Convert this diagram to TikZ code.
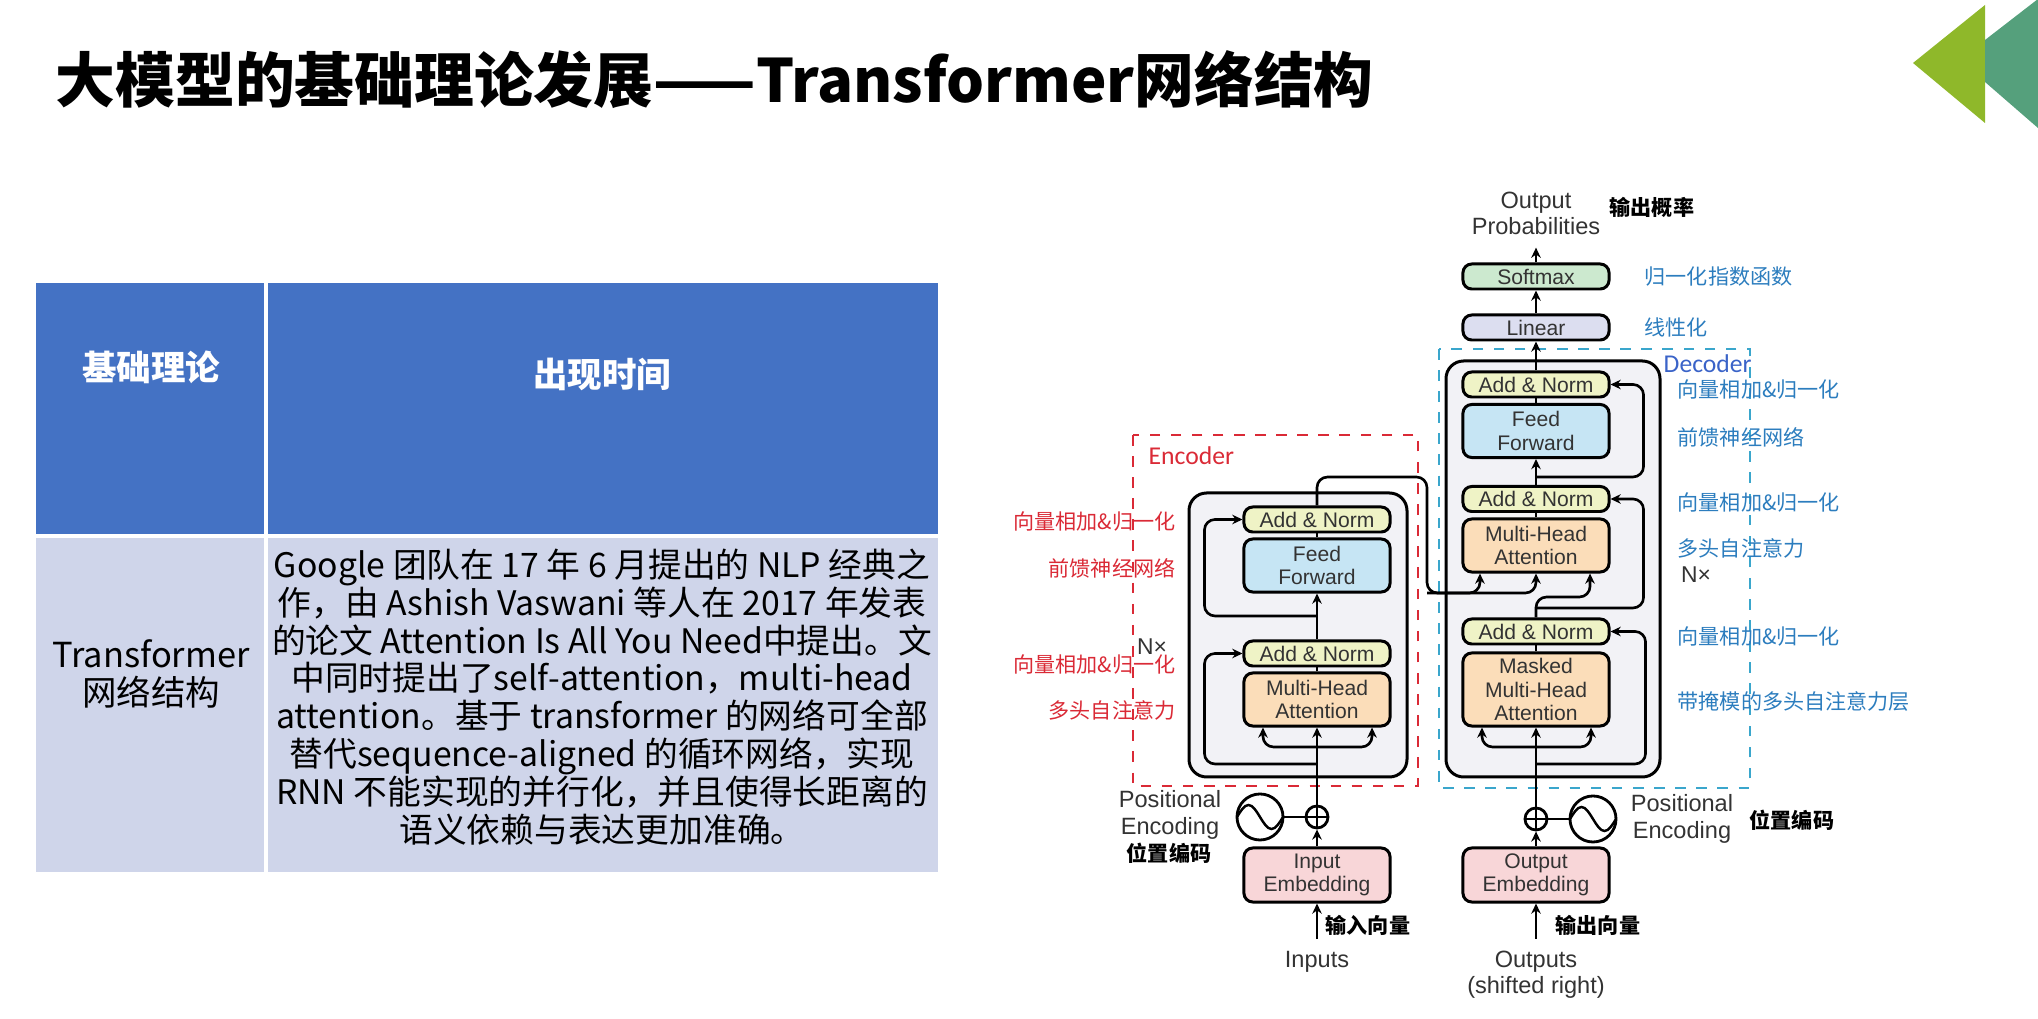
\documentclass[tikz,border=0pt]{standalone}
\usepackage{fontspec}
\setmainfont{Liberation Sans}
\newfontfamily\cjk{Noto Sans CJK SC}
\newfontfamily\cali{Carlito}
\usetikzlibrary{positioning, calc, arrows.meta}

\definecolor{addnormc}{HTML}{EFF3C6}
\definecolor{ffc}{HTML}{C6E5F4}
\definecolor{mhac}{HTML}{FBDDB9}
\definecolor{embc}{HTML}{F8D6D8}
\definecolor{softc}{HTML}{CCE9CF}
\definecolor{linc}{HTML}{DCDEF0}
\definecolor{stackc}{HTML}{F2F2F6}
\definecolor{hdrblue}{HTML}{4472C4}
\definecolor{rowlav}{HTML}{CFD5EA}
\definecolor{encred}{HTML}{DA2A36}
\definecolor{decblue}{HTML}{2C7DBE}
\definecolor{decname}{HTML}{3A63C8}
\definecolor{dashcyan}{HTML}{3AA6CC}
\definecolor{trilight}{HTML}{8FB82A}
\definecolor{tridark}{HTML}{55A07C}

\begin{document}
\begin{tikzpicture}[x=0.01cm, y=-0.01cm,
    block/.style={draw, line width=0.85pt, rounded corners=2.5pt, minimum width=1.46cm, inner sep=0pt, align=center, text=black!80, font=\fontsize{6}{6.6}\selectfont},
    addnorm/.style={block, fill=addnormc, minimum height=0.25cm},
    ffwd/.style={block, fill=ffc, minimum height=0.53cm},
    mha/.style={block, fill=mhac, minimum height=0.53cm},
    embed/.style={block, fill=embc, minimum height=0.54cm},
    connect/.style={-{Stealth[length=2.9pt, width=2.7pt]}, line width=0.75pt, rounded corners=3pt},
    wire/.style={line width=0.75pt},
    stack/.style={draw, line width=0.85pt, fill=stackc, rounded corners=5pt},
    outer_text/.style={align=center, text=black!80, font=\fontsize{6.7}{7.6}\selectfont},
    note_enc/.style={inner sep=0pt, text=encred, font=\cjk\fontsize{6}{6}\selectfont},
    note_dec/.style={inner sep=0pt, text=decblue, font=\cjk\fontsize{6}{6}\selectfont},
    note_bold/.style={inner sep=0pt, font=\cjk\bfseries\fontsize{6}{6}\selectfont},
    sinewave/.style={circle, draw, line width=0.8pt, minimum size=0.46cm, inner sep=0pt,
        path picture={\draw[line width=0.7pt] (path picture bounding box.west)
            sin ++(0.115cm,0.12cm) cos ++(0.115cm,-0.12cm) sin ++(0.115cm,-0.12cm) cos ++(0.115cm,0.12cm);}},
    adder/.style={circle, draw, line width=0.8pt, minimum size=0.22cm, inner sep=0pt,
        path picture={\draw[line width=0.7pt] (path picture bounding box.north) -- (path picture bounding box.south)
            (path picture bounding box.west) -- (path picture bounding box.east);}}
]
    \useasboundingbox (0,0) rectangle (2038,1019);

    % --- TITLE AND CORNER MARK ---
    \node[anchor=base west, inner sep=0pt, font=\cjk\bfseries\fontsize{17}{20}\selectfont] (title) at (55,103) {大模型的基础理论发展——Transformer网络结构};
    \fill[trilight] (1913,63) -- (1985,5) -- (1985,123) -- cycle;
    \fill[tridark] (1985,40) -- (2038,-1) -- (2038,128) -- (1985,82) -- cycle;

    % --- TABLE ---
    \fill[hdrblue] (36,283) rectangle (938,536);
    \fill[rowlav] (36,536) rectangle (938,872);
    \draw[white, line width=1pt] (266,283) -- (266,872) (36,536) -- (938,536);
    \node[text=white, font=\cjk\bfseries\fontsize{9.8}{11}\selectfont] (h1) at (151,367) {基础理论};
    \node[text=white, font=\cjk\bfseries\fontsize{9.8}{11}\selectfont] (h2) at (602,374) {出现时间};
    \node[align=center, font=\cjk\fontsize{9.8}{10.7}\selectfont] (c1) at (151,674) {Transformer\\网络结构};
    \node[align=center, font=\cjk\fontsize{9.6}{10.75}\selectfont] (c2) at (602,697) {%
        Google 团队在 17 年 6 月提出的 NLP 经典之\\
        作，由 Ashish Vaswani 等人在 2017 年发表\\
        的论文 Attention Is All You Need中提出。文\\
        中同时提出了self-attention，multi-head\\
        attention。基于 transformer 的网络可全部\\
        替代sequence-aligned 的循环网络，实现\\
        RNN 不能实现的并行化，并且使得长距离的\\
        语义依赖与表达更加准确。};

    % --- DASHED FRAMES AND STACKS ---
    \draw[encred, dashed, line width=0.8pt] (1133,435) rectangle (1418,786);
    \draw[dashcyan, dashed, line width=0.8pt] (1439,349) rectangle (1750,788);
    \node[anchor=west, inner sep=0pt, text=encred, font=\cali\fontsize{7.3}{8}\selectfont] (enclab) at (1148,456) {Encoder};
    \node[anchor=west, inner sep=0pt, text=decname, font=\cali\fontsize{7.3}{8}\selectfont] (declab) at (1663,364) {Decoder};
    \draw[stack] (1189,493) rectangle (1407,777);
    \draw[stack] (1446,361) rectangle (1660,777);

    % --- ENCODER ---
    \node[embed] (eEmb) at (1317,875) {Input\\Embedding};
    \node[adder] (ePlus) at (1317,817) {};
    \node[sinewave] (eSin) at (1260,817) {};
    \node[mha] (eMHA) at (1317,699.5) {Multi-Head\\Attention};
    \node[addnorm] (eAN1) at (1317,653.5) {Add \& Norm};
    \node[ffwd] (eFF) at (1317,565.5) {Feed\\Forward};
    \node[addnorm] (eAN2) at (1317,519.5) {Add \& Norm};

    % --- DECODER ---
    \node[embed] (dEmb) at (1536,875) {Output\\Embedding};
    \node[adder] (dPlus) at (1536,819) {};
    \node[sinewave] (dSin) at (1593,819) {};
    \node[mha, minimum height=0.73cm] (dMMHA) at (1536,689.5) {Masked\\Multi-Head\\Attention};
    \node[addnorm] (dAN1) at (1536,631.5) {Add \& Norm};
    \node[mha] (dMHA) at (1536,545.5) {Multi-Head\\Attention};
    \node[addnorm] (dAN2) at (1536,499) {Add \& Norm};
    \node[ffwd] (dFF) at (1536,431) {Feed\\Forward};
    \node[addnorm] (dAN3) at (1536,384.5) {Add \& Norm};
    \node[block, fill=linc, minimum height=0.25cm] (lin) at (1536,327.5) {Linear};
    \node[block, fill=softc, minimum height=0.25cm] (soft) at (1536,276.5) {Softmax};

    % --- OUTER TEXT ---
    \node[outer_text] (outprob) at (1536,213.5) {Output\\Probabilities};
    \node[outer_text] (inputs) at (1317,962) {Inputs};
    \node[outer_text, font=\fontsize{6.7}{7.4}\selectfont] (outputs) at (1536,975) {Outputs\\(shifted right)};
    \node[outer_text] (peL) at (1170,815) {Positional\\Encoding};
    \node[outer_text, font=\fontsize{6.7}{7.9}\selectfont] (peR) at (1682,819) {Positional\\Encoding};
    \node[outer_text, font=\fontsize{6.5}{7}\selectfont] (nxL) at (1152,647) {N×};
    \node[outer_text, font=\fontsize{6.5}{7}\selectfont] (nxR) at (1696,575) {N×};

    % --- ENCODER CONNECTIONS ---
    \coordinate (eBr) at (1317,747);
    \coordinate (eRes1) at (1317,764);
    \coordinate (eRes2) at (1317,616);
    \coordinate (eTop) at (1317,477);
    \coordinate (eCross) at (1427,593);
    \draw[connect] (inputs) -- (eEmb);
    \draw[connect] (eEmb) -- (ePlus);
    \draw[wire] (eSin) -- (ePlus);
    \draw[connect] (ePlus) -- (eMHA);
    \draw[connect] (eBr) -| ([xshift=-0.54cm]eMHA.south);
    \draw[connect] (eBr) -| ([xshift=0.55cm]eMHA.south);
    \draw[connect] (eRes1) -| ($(eAN1.west)+(-0.38cm,0)$) -- (eAN1.west);
    \draw[wire] (eMHA) -- (eAN1);
    \draw[connect] (eAN1) -- (eFF);
    \draw[connect] (eRes2) -| ($(eAN2.west)+(-0.38cm,0)$) -- (eAN2.west);
    \draw[wire] (eFF) -- (eAN2);
    \draw[connect] (eAN2.north) -- (eTop) -| (eCross) -| ([xshift=-0.56cm]dMHA.south);
    \draw[connect] (eCross) -| (dMHA.south);

    % --- DECODER CONNECTIONS ---
    \coordinate (dBr) at (1536,747);
    \coordinate (dRes1) at (1536,764);
    \coordinate (dRes2) at (1536,608);
    \coordinate (dQ) at (1536,597);
    \coordinate (dRes3) at (1536,477);
    \draw[connect] (outputs) -- (dEmb);
    \draw[connect] (dEmb) -- (dPlus);
    \draw[wire] (dPlus) -- (dSin);
    \draw[connect] (dPlus) -- (dMMHA);
    \draw[connect] (dBr) -| ([xshift=-0.54cm]dMMHA.south);
    \draw[connect] (dBr) -| ([xshift=0.55cm]dMMHA.south);
    \draw[connect] (dRes1) -| ($(dAN1.east)+(0.35cm,0)$) -- (dAN1.east);
    \draw[wire] (dMMHA) -- (dAN1);
    \draw[connect] (dAN1.north) -- (dQ) -| ([xshift=0.54cm]dMHA.south);
    \draw[connect] (dRes2) -| ($(dAN2.east)+(0.33cm,0)$) -- (dAN2.east);
    \draw[wire] (dMHA) -- (dAN2);
    \draw[connect] (dAN2) -- (dFF);
    \draw[connect] (dRes3) -| ($(dAN3.east)+(0.33cm,0)$) -- (dAN3.east);
    \draw[wire] (dFF) -- (dAN3);
    \draw[connect] (dAN3) -- (lin);
    \draw[connect] (lin) -- (soft);
    \draw[connect] (soft) -- (outprob);

    % --- CHINESE NOTES ---
    \node[note_enc, anchor=east] (nE1) at (1176,522) {向量相加\&归一化};
    \node[note_enc, anchor=east] (nE2) at (1176,568) {前馈神经网络};
    \node[note_enc, anchor=east] (nE3) at (1176,665) {向量相加\&归一化};
    \node[note_enc, anchor=east] (nE4) at (1176,710) {多头自注意力};
    \node[note_dec, anchor=west] (nS) at (1644,277) {归一化指数函数};
    \node[note_dec, anchor=west] (nL) at (1644,327) {线性化};
    \node[note_dec, anchor=west] (nD1) at (1677,390) {向量相加\&归一化};
    \node[note_dec, anchor=west] (nD2) at (1677,437) {前馈神经网络};
    \node[note_dec, anchor=west] (nD3) at (1677,503) {向量相加\&归一化};
    \node[note_dec, anchor=west] (nD4) at (1677,548) {多头自注意力};
    \node[note_dec, anchor=west] (nD5) at (1677,637) {向量相加\&归一化};
    \node[note_dec, anchor=west] (nD6) at (1677,701) {带掩模的多头自注意力层};
    \node[note_bold, anchor=west] (nOut) at (1609,207) {输出概率};
    \node[note_bold] (nPL) at (1169,853) {位置编码};
    \node[note_bold, anchor=west] (nPR) at (1749,820) {位置编码};
    \node[note_bold, anchor=west] (nIn) at (1325,925) {输入向量};
    \node[note_bold, anchor=west] (nOv) at (1555,925) {输出向量};

\end{tikzpicture}
\end{document}
